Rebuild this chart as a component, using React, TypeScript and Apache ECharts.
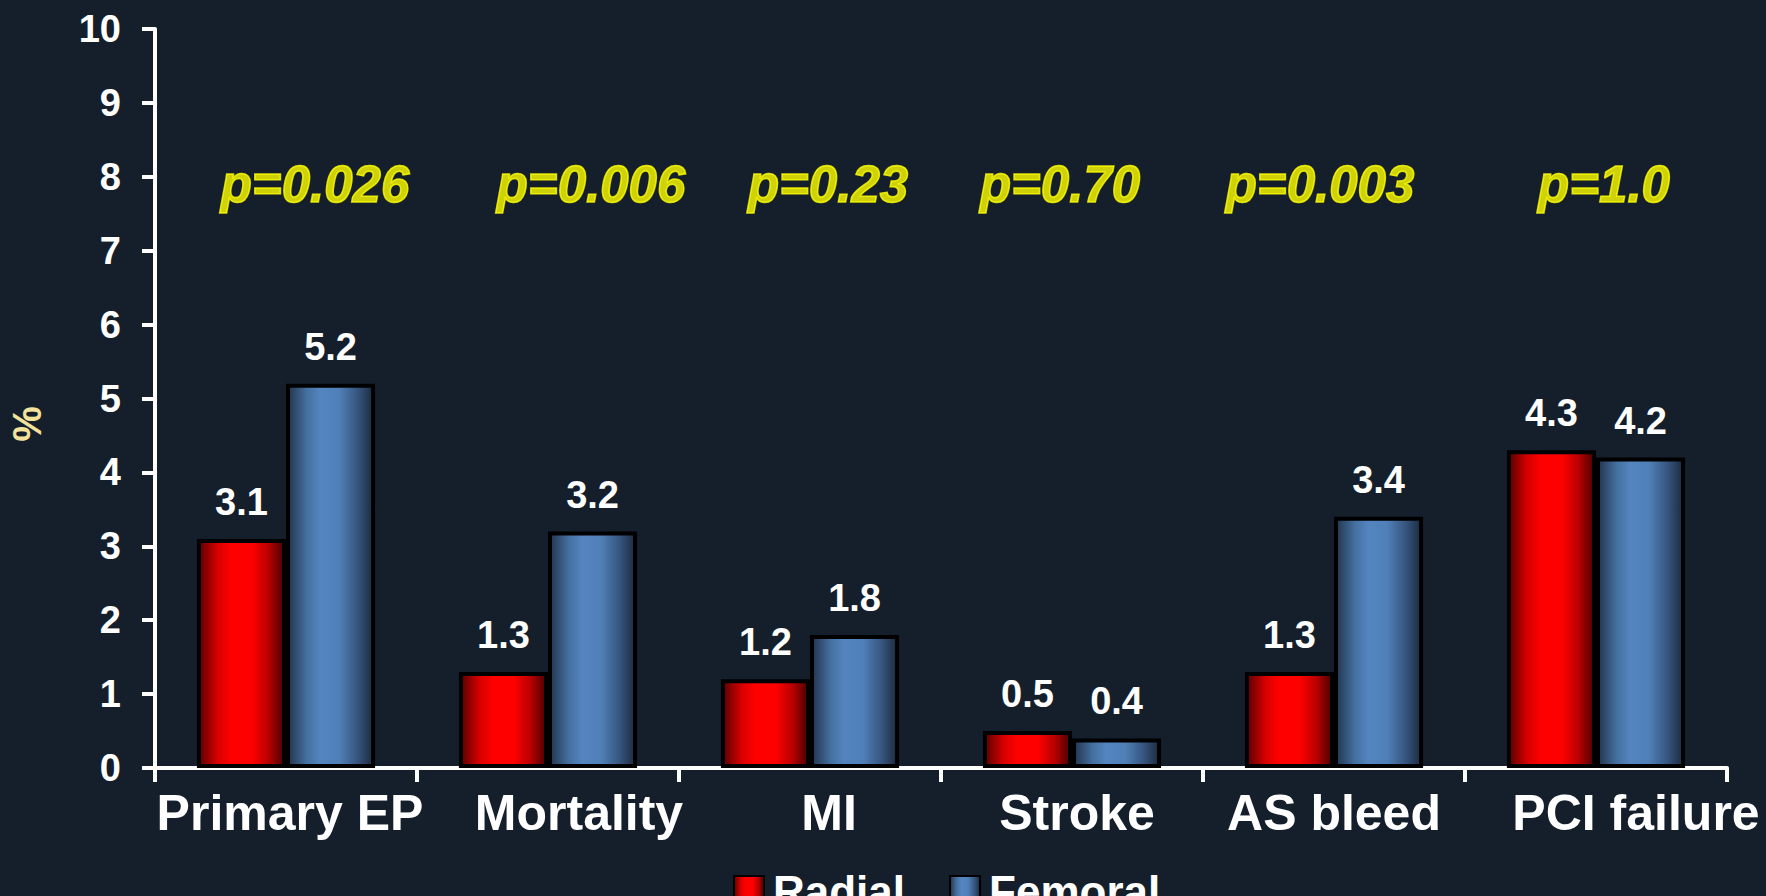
import React, { useEffect, useRef } from "react";
import * as echarts from "echarts";

const categories = ["Primary EP", "Mortality", "MI", "Stroke", "AS bleed", "PCI failure"];
const radial = [3.1, 1.3, 1.2, 0.5, 1.3, 4.3];
const femoral = [5.2, 3.2, 1.8, 0.4, 3.4, 4.2];
const pLabels = ["p=0.026", "p=0.006", "p=0.23", "p=0.70", "p=0.003", "p=1.0"];
const pLevel = 7.9;
const yTicks = { min: 0, max: 10, interval: 1 };
const yName = "%";

// styling offsets (pixels) for labels as placed in the original slide
const catLabelShift = [4, 31, 19, 5, 0, 40];
const pLabelShift = [29, 43, 18, -12, -14, 8];

const BG = "#151f2c";

export default function App() {
  const ref = useRef<HTMLDivElement>(null);
  useEffect(() => {
    if (!ref.current) return;
    const chart = echarts.init(ref.current, null, { renderer: "svg" });
    const redGrad = new echarts.graphic.LinearGradient(0, 0, 1, 0, [
      { offset: 0, color: "#5a0000" },
      { offset: 0.22, color: "#d80000" },
      { offset: 0.38, color: "#ff0000" },
      { offset: 0.62, color: "#ff0000" },
      { offset: 0.82, color: "#b80000" },
      { offset: 1, color: "#4a0000" },
    ]);
    const blueGrad = new echarts.graphic.LinearGradient(0, 0, 1, 0, [
      { offset: 0, color: "#22344e" },
      { offset: 0.22, color: "#44709f" },
      { offset: 0.38, color: "#5585c0" },
      { offset: 0.6, color: "#5080b8" },
      { offset: 0.82, color: "#36557e" },
      { offset: 1, color: "#1c2a3e" },
    ]);
    const shadow = {
      textShadowColor: "#000",
      textShadowBlur: 0,
      textShadowOffsetX: 3,
      textShadowOffsetY: 3,
    };
    const rich: Record<string, any> = {};
    catLabelShift.forEach((s, i) => {
      rich["c" + i] = {
        color: "#fff",
        fontSize: 50,
        fontWeight: "bold",
        fontFamily: "Liberation Sans, Arial, sans-serif",
        padding: [0, 0, 0, 2 * s],
        ...shadow,
      };
    });
    const option: any = {
      animation: false,
      backgroundColor: BG,
      grid: {
        left: 155,
        right: 39,
        top: 29,
        bottom: 128,
        containLabel: false,
        outerBoundsMode: "none",
      },
      graphic: [
        {
          type: "text",
          x: 27,
          y: 424,
          rotation: Math.PI / 2,
          style: {
            text: yName,
            fill: "#f3e29a",
            fontSize: 40,
            fontWeight: "bold",
            fontFamily: "Liberation Sans, Arial, sans-serif",
            align: "center",
            verticalAlign: "middle",
          },
        },
      ],
      legend: {
        data: ["Radial", "Femoral"],
        left: 728,
        top: 864,
        itemWidth: 30,
        itemHeight: 30,
        itemGap: 44,
        icon: "rect",
        textStyle: {
          color: "#fff",
          fontSize: 44,
          fontWeight: "bold",
          fontFamily: "Liberation Sans, Arial, sans-serif",
          padding: [0, 0, 0, 4],
          ...shadow,
        },
      },
      xAxis: {
        type: "category",
        data: categories,
        axisLine: { lineStyle: { color: "#fff", width: 4 } },
        axisTick: { show: true, length: 14, lineStyle: { color: "#fff", width: 4 } },
        axisLabel: {
          margin: 20,
          interval: 0,
          formatter: (v: string) => `{c${categories.indexOf(v)}|${v}}`,
          rich,
        },
      },
      yAxis: {
        type: "value",
        min: yTicks.min,
        max: yTicks.max,
        interval: yTicks.interval,
        splitLine: { show: false },
        axisLine: { show: true, lineStyle: { color: "#fff", width: 4 } },
        axisTick: { show: true, length: 13, lineStyle: { color: "#fff", width: 4 } },
        axisLabel: {
          color: "#fff",
          fontSize: 38,
          fontWeight: "bold",
          fontFamily: "Liberation Sans, Arial, sans-serif",
          margin: 34,
          ...shadow,
        },
      },
      series: [
        {
          name: "Radial",
          type: "bar",
          data: radial,
          barGap: "0%",
          barCategoryGap: "32%",
          itemStyle: { color: redGrad, borderColor: "#000", borderWidth: 4 },
          label: {
            show: true,
            position: "top",
            distance: 18,
            color: "#fff",
            fontSize: 38,
            fontWeight: "bold",
            fontFamily: "Liberation Sans, Arial, sans-serif",
            ...shadow,
          },
        },
        {
          name: "Femoral",
          type: "bar",
          data: femoral,
          itemStyle: { color: blueGrad, borderColor: "#000", borderWidth: 4 },
          label: {
            show: true,
            position: "top",
            distance: 18,
            color: "#fff",
            fontSize: 38,
            fontWeight: "bold",
            fontFamily: "Liberation Sans, Arial, sans-serif",
            ...shadow,
          },
        },
        {
          name: "p",
          type: "scatter",
          symbolSize: 1,
          itemStyle: { color: "rgba(0,0,0,0)" },
          data: categories.map((c, i) => ({
            value: [c, pLevel],
            label: {
              show: true,
              position: "inside",
              offset: [pLabelShift[i], 0],
              formatter: pLabels[i],
            },
          })),
          label: {
            show: true,
            color: "#ffff00",
            fontSize: 51,
            fontWeight: "bold",
            fontStyle: "italic",
            fontFamily: "Liberation Sans, Arial, sans-serif",
            textBorderColor: "#ffff00",
            textBorderWidth: 1.5,
            textShadowColor: "#2a2a10",
            textShadowBlur: 0,
            textShadowOffsetX: 2,
            textShadowOffsetY: 3,
          },
          silent: true,
        },
      ],
    };
    chart.setOption(option);
    return () => chart.dispose();
  }, []);
  return (
    <div
      ref={ref}
      style={{ position: "absolute", left: 0, top: 0, width: 1766, height: 896, background: BG }}
    />
  );
}
